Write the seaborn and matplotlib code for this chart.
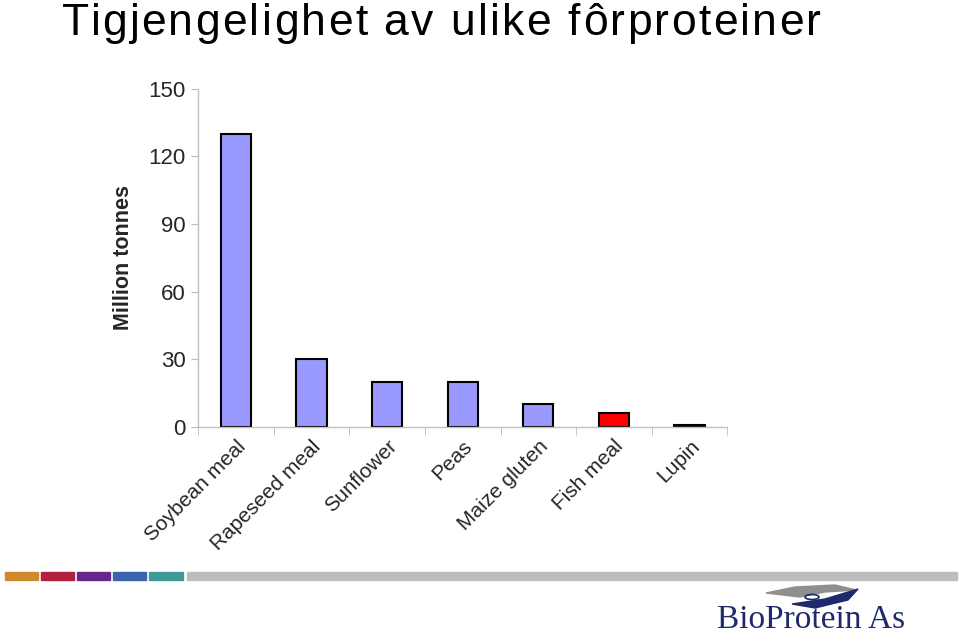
import matplotlib
matplotlib.use("Agg")
import matplotlib.pyplot as plt
import matplotlib.patches as mpatches
from matplotlib.font_manager import FontProperties
import seaborn as sns
import pandas as pd

# data
categories = ["Soybean meal", "Rapeseed meal", "Sunflower", "Peas",
              "Maize gluten", "Fish meal", "Lupin"]
values = [130, 30, 20, 20, 10, 6, 0.8]
bar_colors = ["#9999ff"] * 5 + ["#ff0000", "#000000"]
yticks = [0, 30, 60, 90, 120, 150]
title = "Tigjengelighet av ulike fôrproteiner"

df = pd.DataFrame({"protein": categories, "tonnes": values})

sns.set_style("white")
plt.rcParams["font.family"] = ["Liberation Sans", "DejaVu Sans"]

fig = plt.figure(figsize=(9.59, 6.44), dpi=100)
ax = fig.add_axes([0.2065, 0.337, 0.552, 0.525])

sns.barplot(data=df, x="protein", y="tonnes", hue="protein", palette=bar_colors,
            legend=False, width=0.4, edgecolor="black", linewidth=1.5,
            saturation=1, ax=ax)

ax.set_ylim(0, 150)
ax.set_xlim(-0.5, len(categories) - 0.5)
ax.set_yticks(yticks)
ax.set_yticklabels([str(v) for v in yticks], fontsize=16)
ax.set_xticks(range(len(categories)))
ax.set_xticklabels(categories, rotation=45, ha="right",
                   rotation_mode="anchor", fontsize=15)
ax.tick_params(axis="x", length=0, pad=7)
ax.tick_params(axis="y", length=5, color="#bbbbbb", left=True, pad=4)
# category separator ticks
ax.set_xticks([i + 0.5 for i in range(-1, len(categories))], minor=True)
ax.tick_params(axis="x", which="minor", length=6, color="#bbbbbb", bottom=True)

for side in ["top", "right"]:
    ax.spines[side].set_visible(False)
for side in ["left", "bottom"]:
    ax.spines[side].set_color("#c0c0c0")
    ax.spines[side].set_linewidth(1)

ax.set_xlabel("")
ax.set_ylabel("Million tonnes", fontsize=15.5, fontweight="bold", labelpad=10)

# letter-spaced title
renderer = fig.canvas.get_renderer()
tprop = FontProperties(family=["Liberation Sans", "DejaVu Sans"], size=32)
ref_w = renderer.get_text_width_height_descent("T", tprop, ismath=False)[0]
spacing = 2.3
x0 = 62
for i, ch in enumerate(title):
    w = renderer.get_text_width_height_descent(title[:i] + "T", tprop, ismath=False)[0] - ref_w
    if i == 0:
        w = 0
    fig.text((x0 + w + i * spacing) / 959, 1 - 35 / 644, ch, fontproperties=tprop,
             color="black", ha="left", va="baseline")

# decorative strip at bottom
strip = [("#d08a2e", 5, 38), ("#b0203f", 41, 74), ("#66278a", 77, 110),
         ("#3c63ae", 113, 146), ("#3e9a96", 149, 183), ("#bdbdbd", 187, 957)]
for col, xa, xb in strip:
    fig.patches.append(mpatches.Rectangle((xa / 959, 1 - 580 / 644),
                                          (xb - xa) / 959, 8 / 644,
                                          transform=fig.transFigure,
                                          color=col, zorder=0))

# logo
fig.patches.append(mpatches.Polygon(
    [(766 / 959, 1 - 593 / 644), (795 / 959, 1 - 587 / 644), (835 / 959, 1 - 585 / 644),
     (856 / 959, 1 - 590 / 644), (825 / 959, 1 - 592 / 644), (800 / 959, 1 - 597 / 644)],
    closed=True, transform=fig.transFigure, color="#8f8f8f"))
fig.patches.append(mpatches.Polygon(
    [(792 / 959, 1 - 604 / 644), (825 / 959, 1 - 599 / 644), (858 / 959, 1 - 589 / 644),
     (848 / 959, 1 - 600 / 644), (815 / 959, 1 - 608 / 644)],
    closed=True, transform=fig.transFigure, color="#1f2a6b"))
fig.patches.append(mpatches.Ellipse((812 / 959, 1 - 597 / 644), 14 / 959, 5 / 644,
                                    transform=fig.transFigure, fill=False,
                                    edgecolor="#1f2a6b", linewidth=1.2))
fig.text(0.748, 0.025, "BioProtein As", fontsize=24, color="#1f2a6b",
         family=["Liberation Serif", "DejaVu Serif"], ha="left", va="baseline")

fig.savefig("out.png", dpi=100)
